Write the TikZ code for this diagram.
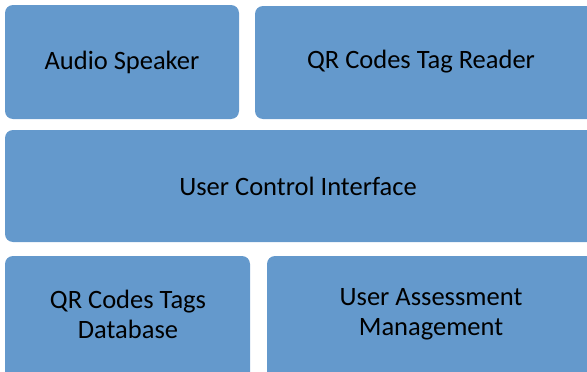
\documentclass[tikz,border=0pt]{standalone}
\usepackage{fontspec}
\setmainfont{Carlito}
\definecolor{boxblue}{RGB}{100,153,204}
\begin{document}
\begin{tikzpicture}[x=1pt,y=-1pt,
  block/.style={fill=boxblue, draw=none, rounded corners=8pt},
  label/.style={font=\fontsize{26.5}{30}\selectfont, align=center, text=black}]
  \useasboundingbox (0,0) rectangle (587,372);
  % top row
  \fill[block] (5,5) rectangle (239,119);
  \node[label] (speaker) at (122,62) {Audio Speaker};
  \fill[block] (255,6) rectangle (597,119);
  \node[label] (reader) at (421,62) {QR Codes Tag Reader};
  % middle band
  \fill[block] (5,130) rectangle (597,242);
  \node[label] (ui) at (298,186) {User Control Interface};
  % bottom row
  \fill[block] (5,256) rectangle (250,382);
  \node[label] (db) at (128,314) {QR Codes Tags\\Database};
  \fill[block] (267,256) rectangle (597,382);
  \node[label] (assess) at (431,314) {User Assessment\\Management};
\end{tikzpicture}
\end{document}
